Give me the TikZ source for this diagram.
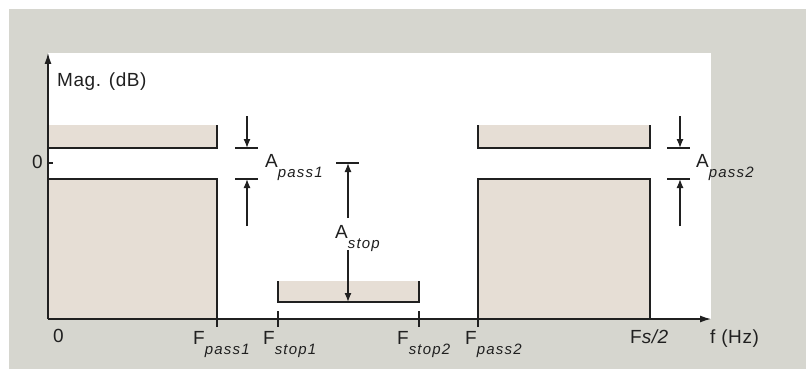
\documentclass[tikz,border=0pt]{standalone}
\usepackage{fontspec}
\setmainfont{Liberation Sans}
\newfontfamily\lblfont[LetterSpace=3]{Liberation Sans}
\newfontfamily\lblsubfont[LetterSpace=8]{Liberation Sans}
\usetikzlibrary{arrows.meta}
\definecolor{panelgray}{HTML}{D6D6CF}
\definecolor{bandfill}{HTML}{E6DED5}
\definecolor{inkline}{HTML}{202020}
\newcommand{\lblsub}[1]{\raisebox{-10pt}{\fontsize{15}{15}\lblsubfont\itshape #1}}
\begin{document}
\begin{tikzpicture}[x=1pt,y=-1pt,
  edge/.style={inkline,line width=1.3pt},
  band/.style={fill=bandfill},
  axis/.style={inkline,line width=1.3pt,-{Latex[length=11pt,width=7pt]}},
  dim/.style={inkline,line width=1.3pt,-{Latex[length=9pt,width=7pt]}},
  lbl/.style={inner sep=0pt,anchor=base west,text=inkline,font=\fontsize{19}{22}\lblfont}]
\useasboundingbox (0,0) rectangle (806,369);
\fill[panelgray] (9,9) rectangle (806,369);
\fill[white] (48,53) rectangle (711,319);
% bands
\fill[band] (48,125) rectangle (217,148);
\draw[edge] (48,148) -- (217,148) -- (217,125);
\fill[band] (48,179) rectangle (217,319);
\draw[edge] (48,179) -- (217,179) -- (217,327);
\fill[band] (278,281) rectangle (419,302);
\draw[edge] (278,281) -- (278,302) -- (419,302) -- (419,281);
\fill[band] (478,125) rectangle (650,148);
\draw[edge] (478,125) -- (478,148) -- (650,148) -- (650,125);
\fill[band] (478,179) rectangle (650,319);
\draw[edge] (478,327) -- (478,179) -- (650,179) -- (650,319);
% axes
\coordinate (origin) at (48,319);
\coordinate (ytop) at (48,53);
\coordinate (xend) at (711,319);
\draw[axis] (origin) -- (ytop);
\draw[axis] (origin) -- (xend);
\draw[edge] (48,163) -- (53,163);
\draw[edge] (278,311) -- (278,327);
\draw[edge] (419,311) -- (419,327);
% pass ripple 1
\coordinate (p1top) at (247,116);
\coordinate (p1hi) at (247,148);
\coordinate (p1lo) at (247,179);
\coordinate (p1bot) at (247,226);
\draw[edge] (235,148) -- (258,148);
\draw[edge] (235,179) -- (258,179);
\draw[dim] (p1top) -- (p1hi);
\draw[dim] (p1bot) -- (p1lo);
% pass ripple 2
\coordinate (p2top) at (680,116);
\coordinate (p2hi) at (680,148);
\coordinate (p2lo) at (680,179);
\coordinate (p2bot) at (680,226);
\draw[edge] (667,148) -- (690,148);
\draw[edge] (667,179) -- (690,179);
\draw[dim] (p2top) -- (p2hi);
\draw[dim] (p2bot) -- (p2lo);
% stop attenuation
\coordinate (sttop) at (348,163);
\coordinate (stbot) at (348,302);
\draw[edge] (336,163) -- (359,163);
\draw[dim] (348,218) -- (sttop);
\draw[dim] (348,250) -- (stbot);
% labels
\node[lbl] (mag) at (57,86) {Mag. (dB)};
\node[lbl,anchor=base east] (zero) at (43,168) {0};
\node[lbl] (apass1) at (265,167) {A\lblsub{pass1}};
\node[lbl] (apass2) at (696,167) {A\lblsub{pass2}};
\node[lbl] (astop) at (335,238) {A\lblsub{stop}};
\node[lbl] (f0) at (53,342) {0};
\node[lbl] (fpass1) at (193,344) {F\lblsub{pass1}};
\node[lbl] (fstop1) at (263,344) {F\lblsub{stop1}};
\node[lbl] (fstop2) at (397,344) {F\lblsub{stop2}};
\node[lbl] (fpass2) at (465,344) {F\lblsub{pass2}};
\node[lbl] (fs) at (630,343) {F\textit{s/2}};
\node[lbl] (fhz) at (710,343) {f (Hz)};
\end{tikzpicture}
\end{document}
